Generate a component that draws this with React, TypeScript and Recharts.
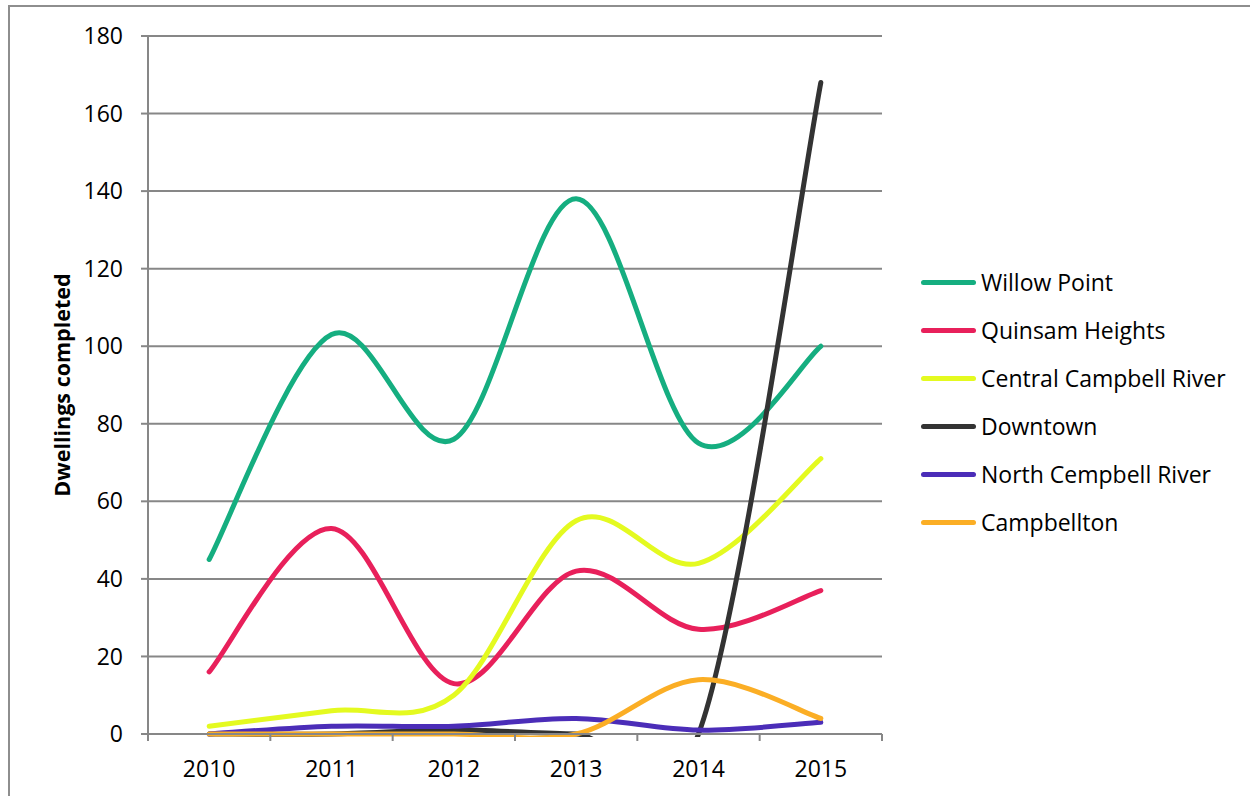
import React from 'react';
import { LineChart, Line, XAxis, YAxis, CartesianGrid, Label } from 'recharts';

// Dwellings completed per neighbourhood, 2010–2015
const years = ['2010', '2011', '2012', '2013', '2014', '2015'];
const willowPoint = [45, 103, 76, 138, 75, 100];
const quinsamHeights = [16, 53, 13, 42, 27, 37];
const centralCampbellRiver = [2, 6, 10, 55, 44, 71];
const downtown = [0, 0, 1, 0, 0, 168];
const northCempbellRiver = [0, 2, 2, 4, 1, 3];
const campbellton = [0, 0, 0, 0, 14, 4];
const yTicks = [0, 20, 40, 60, 80, 100, 120, 140, 160, 180];

const seriesList = [
  { key: 'willowPoint', name: 'Willow Point', color: '#15ae80', values: willowPoint },
  { key: 'quinsamHeights', name: 'Quinsam Heights', color: '#e8205b', values: quinsamHeights },
  { key: 'centralCampbellRiver', name: 'Central Campbell River', color: '#e4fa20', values: centralCampbellRiver },
  { key: 'downtown', name: 'Downtown', color: '#333333', values: downtown },
  { key: 'northCempbellRiver', name: 'North Cempbell River', color: '#4b2db8', values: northCempbellRiver },
  { key: 'campbellton', name: 'Campbellton', color: '#fbae25', values: campbellton },
];

const data = years.map((year, i) => {
  const row: Record<string, string | number> = { year };
  seriesList.forEach((s) => {
    row[s.key] = s.values[i];
  });
  return row;
});

// Chart geometry
const WIDTH = 1250;
const HEIGHT = 796;
const MARGIN = { top: 36, right: 368, bottom: 12, left: 0 };
const Y_AXIS_WIDTH = 148;
const X_AXIS_HEIGHT = 50;
const PLOT_X = MARGIN.left + Y_AXIS_WIDTH;
const PLOT_Y = MARGIN.top;
const PLOT_W = WIDTH - MARGIN.left - MARGIN.right - Y_AXIS_WIDTH;
const PLOT_H = HEIGHT - MARGIN.top - MARGIN.bottom - X_AXIS_HEIGHT;
const BAND = PLOT_W / years.length;

const AXIS_GREY = '#878787';
const FONT = '"Open Sans", sans-serif';

// Smooth curve through every point (cubic Bézier, Catmull-Rom style tangents)
const smoothCurve = (context: any) => {
  let pts: [number, number][] = [];
  return {
    areaStart() {},
    areaEnd() {},
    lineStart() {
      pts = [];
    },
    point(x: number, y: number) {
      pts.push([+x, +y]);
    },
    lineEnd() {
      const n = pts.length;
      if (!n) return;
      context.moveTo(pts[0][0], pts[0][1]);
      for (let i = 0; i < n - 1; i++) {
        const p0 = pts[Math.max(i - 1, 0)];
        const p1 = pts[i];
        const p2 = pts[i + 1];
        const p3 = pts[Math.min(i + 2, n - 1)];
        context.bezierCurveTo(
          p1[0] + (p2[0] - p0[0]) / 6,
          p1[1] + (p2[1] - p0[1]) / 6,
          p2[0] - (p3[0] - p1[0]) / 6,
          p2[1] - (p3[1] - p1[1]) / 6,
          p2[0],
          p2[1]
        );
      }
    },
  };
};

const X_TICK_SIZE = 7;

const YearTick = (props: any) => {
  const { x, y, payload, index } = props;
  const axisY = y - X_TICK_SIZE;
  const left = x - BAND / 2;
  const right = x + BAND / 2;
  return (
    <g>
      <line x1={left} y1={axisY} x2={left} y2={axisY + X_TICK_SIZE} stroke={AXIS_GREY} strokeWidth={2} />
      {index === years.length - 1 && (
        <line x1={right} y1={axisY} x2={right} y2={axisY + X_TICK_SIZE} stroke={AXIS_GREY} strokeWidth={2} />
      )}
      <text x={x} y={y + 36} textAnchor="middle" fontFamily={FONT} fontSize={23} fill="#000">
        {payload.value}
      </text>
    </g>
  );
};

const YTitle = (props: any) => {
  const { viewBox } = props;
  const cx = viewBox.x + 61;
  const cy = viewBox.y + viewBox.height / 2;
  return (
    <text
      x={cx}
      y={cy}
      transform={`rotate(-90 ${cx} ${cy})`}
      textAnchor="middle"
      dominantBaseline="central"
      fontFamily={FONT}
      fontWeight={700}
      fontSize={21.5}
      fill="#000"
    >
      Dwellings completed
    </text>
  );
};

const LegendBox = () => (
  <div style={{ position: 'absolute', left: 921, top: 258 }}>
    {seriesList.map((s) => (
      <div key={s.key} style={{ display: 'flex', alignItems: 'center', height: 48 }}>
        <div style={{ width: 55, height: 5, borderRadius: 3, background: s.color, marginRight: 5 }} />
        <span style={{ fontFamily: FONT, fontSize: 23, color: '#000', whiteSpace: 'nowrap' }}>{s.name}</span>
      </div>
    ))}
  </div>
);

export default function App() {
  return (
    <div style={{ position: 'absolute', left: 0, top: 0, width: WIDTH, height: HEIGHT, overflow: 'hidden', background: '#fff' }}>
      <style>{`.plot-clipped { clip-path: url(#plot-clip); }`}</style>
      <svg width={0} height={0} style={{ position: 'absolute' }}>
        <defs>
          <clipPath id="plot-clip" clipPathUnits="userSpaceOnUse">
            <rect x={PLOT_X - 10} y={PLOT_Y - 10} width={PLOT_W + 20} height={PLOT_H + 13} />
          </clipPath>
        </defs>
      </svg>
      <div
        style={{
          position: 'absolute',
          left: 8,
          top: 5,
          width: 1300,
          height: 900,
          border: '2px solid #8e8e8e',
          boxSizing: 'border-box',
        }}
      />
      <div style={{ position: 'absolute', left: 0, top: 0 }}>
        <LineChart width={WIDTH} height={HEIGHT} data={data} margin={MARGIN}>
          <CartesianGrid vertical={false} stroke={AXIS_GREY} strokeWidth={2} />
          <XAxis
            dataKey="year"
            scale="band"
            height={X_AXIS_HEIGHT}
            axisLine={{ stroke: AXIS_GREY, strokeWidth: 2 }}
            tickLine={false}
            tickSize={X_TICK_SIZE}
            tickMargin={0}
            tick={<YearTick />}
            interval={0}
          />
          <YAxis
            domain={[0, 180]}
            ticks={yTicks}
            width={Y_AXIS_WIDTH}
            axisLine={{ stroke: AXIS_GREY, strokeWidth: 2 }}
            tickLine={{ stroke: AXIS_GREY, strokeWidth: 2 }}
            tickSize={7}
            tickMargin={18}
            tick={{ fontFamily: FONT, fontSize: 23, fill: '#000' }}
            interval={0}
          >
            <Label content={<YTitle />} />
          </YAxis>
          {seriesList.map((s) => (
            <Line
              key={s.key}
              dataKey={s.key}
              name={s.name}
              type={smoothCurve as any}
              stroke={s.color}
              strokeWidth={5}
              strokeLinecap="round"
              dot={false}
              activeDot={false}
              className="plot-clipped"
              isAnimationActive={false}
            />
          ))}
        </LineChart>
      </div>
      <LegendBox />
    </div>
  );
}
